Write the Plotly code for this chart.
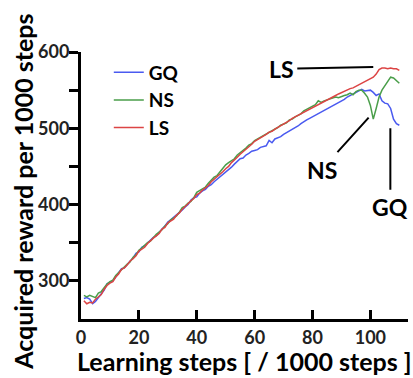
import plotly.graph_objects as go

steps = list(range(1, 111))

ls_reward = [274, 270, 272, 271, 276, 279, 282, 289, 294, 297,
             299, 305, 309, 315, 317, 321, 326, 329, 333, 339,
             342, 344, 349, 353, 356, 359, 362, 368, 370, 376,
             378, 381, 386, 389, 394, 397, 401, 405, 408, 413,
             415, 419, 422, 425, 430, 433, 436, 440, 443, 447,
             450, 455, 458, 462, 466, 469, 472, 476, 479, 483,
             485, 487, 489, 492, 495, 496, 499, 501, 503, 506,
             508, 510, 513, 515, 518, 520, 522, 524, 526, 528,
             530, 532, 533, 535, 537, 539, 541, 543, 545, 547,
             548, 550, 552, 553, 555, 557, 558, 560, 562, 564,
             567, 571, 577, 579, 579, 578, 579, 578, 578, 576]

ns_reward = [281, 279, 281, 280, 278, 284, 286, 291, 296, 299,
             301, 307, 311, 314, 319, 322, 325, 331, 334, 340,
             343, 347, 350, 352, 357, 361, 364, 367, 372, 375,
             380, 383, 385, 390, 396, 398, 402, 404, 409, 416,
             418, 421, 423, 428, 432, 436, 438, 443, 447, 452,
             455, 458, 460, 465, 468, 470, 474, 478, 480, 484,
             486, 488, 490, 493, 494, 497, 499, 501, 504, 506,
             507, 511, 512, 515, 517, 519, 523, 525, 526, 528,
             531, 536, 534, 536, 537, 538, 539, 541, 540, 542,
             543, 544, 546, 544, 548, 550, 550, 546, 541, 530,
             512, 526, 541, 550, 556, 562, 567, 566, 562, 559]

gq_reward = [277, 278, 276, 270, 273, 278, 282, 288, 296, 298,
             300, 305, 310, 316, 317, 322, 326, 330, 336, 338,
             344, 346, 350, 354, 357, 359, 364, 368, 372, 377,
             380, 383, 387, 390, 393, 397, 400, 406, 409, 410,
             415, 418, 420, 424, 426, 430, 433, 437, 440, 443,
             446, 449, 453, 457, 460, 461, 465, 467, 470, 471,
             472, 475, 476, 477, 484, 481, 486, 487, 489, 492,
             494, 497, 499, 501, 503, 506, 509, 511, 513, 515,
             517, 519, 522, 524, 526, 528, 530, 532, 534, 536,
             538, 541, 543, 545, 548, 549, 551, 549, 550, 550,
             547, 543, 545, 536, 533, 532, 526, 512, 506, 504]

series_names = ["GQ", "NS", "LS"]
series_colors = ["#4a5af0", "#4a9e4a", "#dc4444"]

y_tickvals = [300, 350, 400, 450, 500, 550, 600]
y_ticktext = ["300", "", "400", "", "500", "", "600"]
x_tickvals = [0, 20, 40, 60, 80, 100]
x_ticktext = ["0", "20", "40", "60", "80", "100"]

FONT = "Lato"

fig = go.Figure()
for name, vals, col in zip(series_names, [gq_reward, ns_reward, ls_reward], series_colors):
    fig.add_trace(go.Scatter(x=steps, y=vals, mode="lines", name=name,
                             line=dict(color=col, width=1.5)))

# label callouts: (text, x, y, ax, ay)
callouts = [("LS", 101, 580.5, -92, 2),
            ("NS", 99.4, 514, -47, 52),
            ("GQ", 106.9, 500, 0, 79)]
annotations = []
for txt, xx, yy, ax, ay in callouts:
    annotations.append(dict(x=xx, y=yy, xref="x", yref="y", ax=ax, ay=ay,
                            text="<b>%s</b>" % txt, showarrow=True, arrowhead=0,
                            arrowwidth=2, arrowcolor="black", borderpad=3,
                            font=dict(family=FONT, size=23, color="black")))

annotations.append(dict(text="<b>Acquired reward per 1000 steps</b>", xref="paper", yref="paper",
                        x=-0.176, y=0.478, textangle=-90, showarrow=False,
                        xanchor="center", yanchor="middle",
                        font=dict(family=FONT, size=25, color="black")))
annotations.append(dict(text="<b>Learning steps [ / 1000 steps ]</b>", xref="paper", yref="paper",
                        x=0.5, y=-0.158, showarrow=False,
                        xanchor="center", yanchor="middle",
                        font=dict(family=FONT, size=25, color="black")))

fig.update_layout(
    width=413, height=378,
    margin=dict(l=81, r=5, t=52, b=59),
    paper_bgcolor="white", plot_bgcolor="white",
    showlegend=True,
    legend=dict(x=0.085, y=0.995, xanchor="left", yanchor="top",
                bgcolor="rgba(0,0,0,0)", tracegroupgap=0,
                font=dict(family=FONT, size=19, color="black", weight="bold")),
    annotations=annotations,
    hovermode=False,
)
fig.update_xaxes(range=[0, 113], showgrid=False, zeroline=False,
                 showline=True, linecolor="black", linewidth=3,
                 ticks="inside", ticklen=9, tickwidth=3, tickcolor="black",
                 tickvals=x_tickvals, ticktext=x_ticktext,
                 tickfont=dict(family=FONT, size=18, color="#222", weight="bold"))
fig.update_yaxes(range=[250, 600], showgrid=False, zeroline=False,
                 showline=True, linecolor="black", linewidth=3,
                 ticks="outside", ticklen=9, tickwidth=3, tickcolor="black",
                 ticklabelstandoff=-4,
                 tickvals=y_tickvals, ticktext=y_ticktext,
                 tickfont=dict(family=FONT, size=18, color="#222", weight="bold"))

fig.write_html("out.html", config={"displayModeBar": False})
